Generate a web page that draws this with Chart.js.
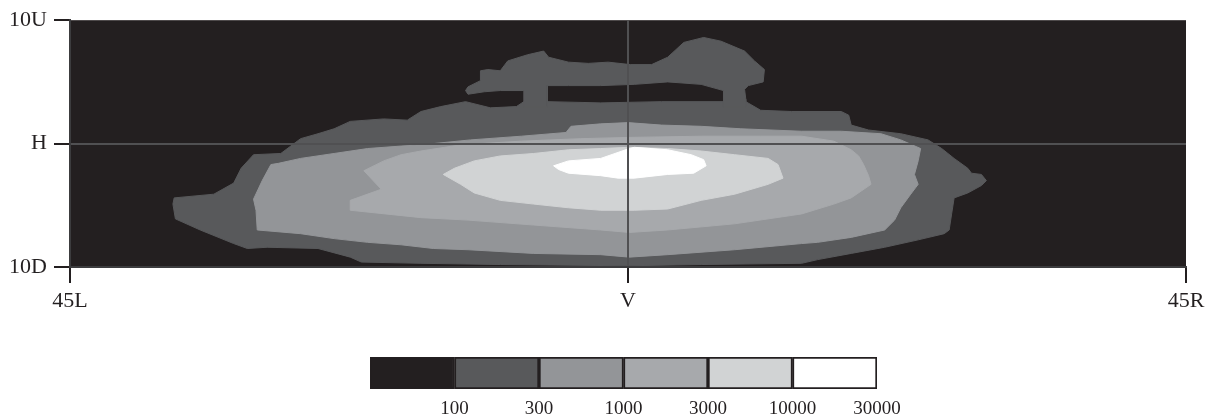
<!DOCTYPE html>
<html>
<head>
<meta charset="utf-8">
<script src="https://cdn.jsdelivr.net/npm/chart.js@4.4.1/dist/chart.umd.min.js"></script>
<style>
  html, body { margin: 0; padding: 0; background: #fff; }
  #wrap { position: relative; width: 1220px; height: 416px; }
  canvas { position: absolute; left: 0; }
  #isolux { top: 0; }
  #scaleBar { top: 330px; }
</style>
</head>
<body>
<div id="wrap">
  <canvas id="isolux" width="1220" height="330"></canvas>
  <canvas id="scaleBar" width="1220" height="86"></canvas>
</div>
<script>
// axes: degrees left/right and up/down
const xTickValues = [-45, 0, 45];
const xTickLabels = ['45L', 'V', '45R'];
const yTickValues = [-10, 0, 10];
const yTickLabels = ['10D', 'H', '10U'];

// scale bar
const legendLabels = ['100', '300', '1000', '3000', '10000', '30000'];
const legendColors = ['#231f20', '#58595b', '#939598', '#a7a9ac', '#d1d3d4', '#ffffff'];

// colour of each band, index = level in legendLabels
const bgColor = '#231f20';
const bandColors = ['#58595b', '#939598', '#a7a9ac', '#d1d3d4', '#ffffff'];

// contour outlines [x deg, y deg]
const contour100 = [[-36.7,-4.9],[-36.6,-4.4],[-33.4,-4.1],[-31.8,-3.2],[-31.2,-2.0],[-30.2,-0.9],[-28.0,-0.8],[-26.4,0.4],[-25.0,0.8],[-23.7,1.2],[-22.4,1.8],[-19.7,2.0],[-17.8,1.9],[-16.7,2.6],[-15.1,3.0],[-13.1,3.4],[-11.1,2.9],[-9.0,3.0],[-8.4,3.4],[-6.5,3.4],[-2.2,3.3],[2.7,3.4],[7.7,3.4],[9.5,3.4],[10.7,2.7],[13.2,2.6],[17.2,2.6],[17.8,2.3],[18.0,1.5],[19.4,1.1],[22.0,0.8],[24.2,0.3],[25.3,-0.4],[26.3,-1.2],[27.4,-2.0],[27.7,-2.4],[28.5,-2.5],[28.9,-3.0],[28.5,-3.4],[27.4,-4.0],[26.3,-4.4],[26.1,-5.7],[25.9,-7.0],[25.5,-7.3],[23.4,-7.8],[20.7,-8.4],[18.0,-8.9],[15.3,-9.4],[14.0,-9.7],[5.9,-9.8],[0,-9.9],[-10.3,-9.8],[-16.7,-9.7],[-21.5,-9.6],[-22.4,-9.2],[-25.0,-8.5],[-29.1,-8.4],[-30.7,-8.5],[-31.8,-8.1],[-34.5,-7.0],[-36.5,-6.1]];
const contour100Upper = [[-13.1,4.3],[-12.9,4.6],[-11.9,5.1],[-11.9,5.9],[-11.3,6.0],[-10.3,5.9],[-9.7,6.7],[-8.1,7.2],[-6.8,7.5],[-6.4,7.0],[-4.8,6.6],[-3.2,6.5],[-1.6,6.6],[0.2,6.4],[1.9,6.4],[3.2,7.0],[4.5,8.2],[6.1,8.6],[7.5,8.3],[9.4,7.5],[10.2,6.7],[11.0,6.0],[10.9,5.0],[9.7,4.7],[9.4,4.4],[9.5,3.6],[9.5,3.0],[7.7,3.0],[7.7,4.3],[5.9,4.8],[3.2,5.0],[0.5,4.8],[-2.2,4.7],[-4.8,4.7],[-6.5,4.7],[-6.5,3.0],[-8.4,3.0],[-8.4,4.3],[-10.3,4.3],[-11.6,4.2],[-12.9,4.0]];
const contour300 = [[-29.9,-7.0],[-30.0,-5.4],[-30.2,-4.5],[-29.5,-3.0],[-28.8,-1.7],[-28.2,-1.6],[-26.4,-1.2],[-23.7,-0.8],[-21.0,-0.4],[-18.3,-0.2],[-16.7,-0.1],[-12.7,0.3],[-8.6,0.6],[-5.0,0.9],[-4.6,1.4],[-2.2,1.6],[0,1.7],[2.7,1.5],[5.9,1.4],[9.1,1.2],[14.0,1.0],[17.2,1.0],[20.4,0.8],[22.0,0.3],[23.6,-0.4],[23.4,-1.4],[23.1,-2.5],[23.4,-3.3],[22.8,-4.1],[22.0,-5.2],[21.5,-6.2],[20.7,-7.0],[18.0,-7.6],[15.3,-8.0],[14.0,-8.1],[8.6,-8.6],[3.2,-9.0],[0.1,-9.2],[-2.2,-9.0],[-7.6,-8.9],[-12.9,-8.6],[-15.7,-8.5],[-18.3,-8.2],[-21.0,-8.0],[-23.7,-7.7],[-26.4,-7.3]];
const contour1000 = [[-21.3,-2.2],[-19.7,-1.4],[-18.3,-0.9],[-16.7,-0.6],[-13.5,-0.1],[-8.6,0.2],[-3.8,0.4],[0,0.5],[5.9,0.6],[10.7,0.6],[14.0,0.6],[16.6,0.2],[18.0,-0.5],[18.6,-1.0],[19.0,-1.7],[19.4,-2.6],[19.6,-3.3],[18.0,-4.4],[16.6,-4.9],[14.0,-5.7],[8.6,-6.5],[3.2,-7.0],[0.1,-7.2],[-2.2,-7.0],[-7.6,-6.6],[-12.9,-6.2],[-16.7,-6.0],[-22.4,-5.4],[-22.4,-4.6],[-19.9,-3.7]];
const contour3000 = [[-14.9,-2.5],[-14.0,-2.0],[-12.4,-1.4],[-10.3,-1.0],[-7.6,-0.8],[-4.8,-0.5],[-2.2,-0.4],[0.1,-0.3],[3.2,-0.4],[5.9,-0.6],[8.6,-0.9],[11.3,-1.2],[12.1,-1.7],[12.5,-2.8],[11.3,-3.3],[8.6,-4.1],[5.9,-4.6],[3.2,-5.3],[0.5,-5.4],[-2.2,-5.4],[-4.8,-5.2],[-7.6,-4.9],[-10.3,-4.6],[-12.4,-4.0],[-13.5,-3.3]];
const contour10000 = [[-6.0,-1.8],[-4.8,-1.4],[-2.2,-1.2],[0.1,-0.4],[0.5,-0.3],[3.2,-0.5],[5.1,-0.9],[6.1,-1.3],[6.3,-1.8],[5.3,-2.4],[3.2,-2.5],[0.5,-2.8],[-0.8,-2.8],[-2.2,-2.6],[-4.8,-2.4],[-5.6,-2.1]];

// outermost first
const contours = [
  { level: 0, pts: contour100 },
  { level: 0, pts: contour100Upper },
  { level: 1, pts: contour300 },
  { level: 2, pts: contour1000 },
  { level: 3, pts: contour3000 },
  { level: 4, pts: contour10000 }
];

const serif = "'Liberation Serif', 'DejaVu Serif', serif";

var plotBg = {
  id: 'plotBg',
  beforeDraw: function (chart) {
    var a = chart.chartArea, ctx = chart.ctx;
    ctx.save();
    ctx.fillStyle = bgColor;
    ctx.fillRect(a.left, a.top, a.right - a.left, a.bottom - a.top);
    ctx.restore();
  }
};

var datasets = contours.map(function (c, i) {
  var col = bandColors[c.level];
  return {
    data: c.pts.concat([c.pts[0]]).map(function (p) { return { x: p[0], y: p[1] }; }),
    backgroundColor: col,
    borderColor: col,
    borderWidth: 1,
    pointRadius: 0,
    tension: 0,
    fill: 'shape',
    order: contours.length - i
  };
});

function lineAtZero(ctx) {
  return ctx.tick && ctx.tick.value === 0 ? '#505052' : 'rgba(0,0,0,0)';
}

var ctx = document.getElementById('isolux');
var isoluxChart = new Chart(ctx, {
  type: 'line',
  data: { datasets: datasets },
  plugins: [plotBg],
  options: {
    responsive: false,
    animation: false,
    events: [],
    layout: { padding: { top: 17, right: 34, left: 0, bottom: 0 } },
    plugins: { legend: { display: false }, tooltip: { enabled: false } },
    scales: {
      x: {
        type: 'linear',
        min: -45, max: 45,
        afterBuildTicks: function (s) { s.ticks = xTickValues.map(function (v) { return { value: v }; }); },
        afterFit: function (s) { s.height = 63; },
        ticks: {
          autoSkip: false, maxRotation: 0, padding: 5, color: '#231f20',
          font: { family: serif, size: 22 },
          callback: function (v) { return xTickLabels[xTickValues.indexOf(v)]; }
        },
        grid: { z: 1, color: lineAtZero, lineWidth: 2, tickColor: '#231f20', tickLength: 16, tickWidth: 2 },
        border: { z: 1, color: '#3c3c3e', width: 2 }
      },
      y: {
        min: -10, max: 10,
        afterBuildTicks: function (s) { s.ticks = yTickValues.map(function (v) { return { value: v }; }); },
        afterFit: function (s) { s.width = 70; },
        ticks: {
          autoSkip: false, padding: 7, color: '#231f20',
          font: { family: serif, size: 22 },
          callback: function (v) { return yTickLabels[yTickValues.indexOf(v)]; }
        },
        grid: { z: 1, color: lineAtZero, lineWidth: 2, tickColor: '#231f20', tickLength: 16, tickWidth: 2 },
        border: { z: 1, color: '#3c3c3e', width: 2 }
      }
    }
  }
});

// scale bar below the plot
var ctx = document.getElementById('scaleBar');
var barChart = new Chart(ctx, {
  type: 'bar',
  data: {
    labels: [''],
    datasets: legendColors.map(function (c) {
      return {
        data: [1],
        backgroundColor: c,
        borderColor: '#231f20',
        borderWidth: 2,
        borderSkipped: false,
        barPercentage: 1,
        categoryPercentage: 1
      };
    })
  },
  options: {
    indexAxis: 'y',
    responsive: false,
    animation: false,
    events: [],
    layout: { padding: { top: 27, left: 370, right: 343, bottom: 0 } },
    plugins: { legend: { display: false }, tooltip: { enabled: false } },
    scales: {
      x: {
        stacked: true,
        min: 0, max: legendLabels.length,
        afterBuildTicks: function (s) { s.ticks = legendLabels.map(function (l, i) { return { value: i + 1 }; }); },
        afterFit: function (s) { s.height = 27; },
        ticks: {
          autoSkip: false, maxRotation: 0, padding: 1, color: '#231f20',
          font: { family: serif, size: 19 },
          callback: function (v) { return legendLabels[v - 1]; }
        },
        grid: { display: false },
        border: { display: false }
      },
      y: { stacked: true, display: false }
    }
  }
});
</script>
</body>
</html>
